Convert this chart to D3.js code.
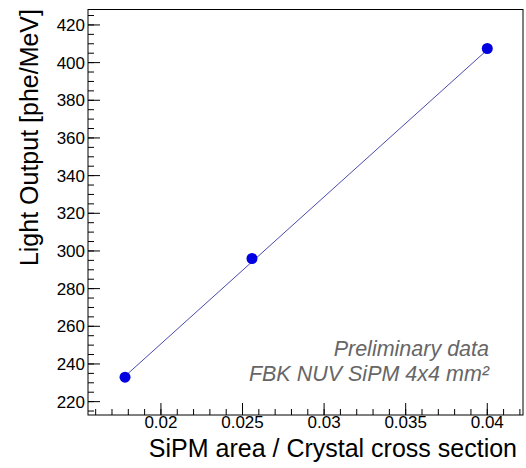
<!DOCTYPE html>
<html>
<head>
<meta charset="utf-8">
<script src="https://cdn.jsdelivr.net/npm/d3@7"></script>
<style>
  body { margin: 0; background: #fff; }
  svg { display: block; font-family: "Liberation Sans", Arial, sans-serif; }
</style>
</head>
<body>
<div id="chart"></div>
<script>
// measured points
const ratio = [0.0178, 0.02558, 0.0400];
const lightOutput = [233, 296, 407.5];
// linear fit drawn over the points
const fitX = [0.0178, 0.0400];
const fitY = [233.5, 406.8];
const xTicks = [0.02, 0.025, 0.03, 0.035, 0.04];
const yTicks = [220, 240, 260, 280, 300, 320, 340, 360, 380, 400, 420];
const notes = ["Preliminary data", "FBK NUV SiPM 4x4 mm²"];

let margin = {top: 9.5, right: 3, bottom: 53, left: 88},
    width = 526 - margin.left - margin.right,
    height = 468 - margin.top - margin.bottom;

let svg = d3.select("#chart")
    .append("svg")
        .attr("width", 526)
        .attr("height", 468)
    .append("g")
        .attr("transform", `translate(${margin.left},${margin.top})`);

let x = d3.scaleLinear()
    .domain([0.01553, 0.04219])
    .range([0, width]);

let y = d3.scaleLinear()
    .domain([212.9, 428.2])
    .range([height, 0]);

// minor ticks, ROOT style (inside the frame)
let xMinor = d3.range(0.015, 0.0425, 0.001).filter(v => x(v) > 0.5 && x(v) < width - 0.5);
let yMinor = d3.range(215, 430, 5).filter(v => y(v) > 0.5 && y(v) < height - 0.5);

let ticks = svg.append("g").attr("stroke", "#000").attr("stroke-width", 1);
ticks.selectAll(".xm").data(xMinor).enter().append("line")
    .attr("x1", d => x(d)).attr("x2", d => x(d))
    .attr("y1", height).attr("y2", height - 6);
ticks.selectAll(".xM").data(xTicks).enter().append("line")
    .attr("x1", d => x(d)).attr("x2", d => x(d))
    .attr("y1", height).attr("y2", height - 12);
ticks.selectAll(".ym").data(yMinor).enter().append("line")
    .attr("x1", 0).attr("x2", 6)
    .attr("y1", d => y(d)).attr("y2", d => y(d));
ticks.selectAll(".yM").data(yTicks).enter().append("line")
    .attr("x1", 0).attr("x2", 12)
    .attr("y1", d => y(d)).attr("y2", d => y(d));

// frame
svg.append("rect")
    .attr("width", width).attr("height", height)
    .attr("fill", "none").attr("stroke", "#000").attr("stroke-width", 1);

// tick labels
svg.append("g").selectAll("text").data(xTicks).enter().append("text")
    .attr("x", d => x(d)).attr("y", height + 13)
    .attr("text-anchor", "middle").attr("font-size", 17)
    .text(d => d3.format("")(d));
svg.append("g").selectAll("text").data(yTicks).enter().append("text")
    .attr("x", -3).attr("y", d => y(d)).attr("dy", "0.35em")
    .attr("text-anchor", "end").attr("font-size", 17)
    .text(d => d);

// axis titles
svg.append("text")
    .attr("x", 517 - margin.left).attr("y", 457 - margin.top)
    .attr("text-anchor", "end").attr("font-size", 25)
    .text("SiPM area / Crystal cross section");
svg.append("text")
    .attr("transform", `translate(${38 - margin.left},${9 - margin.top}) rotate(-90)`)
    .attr("text-anchor", "end").attr("font-size", 25)
    .text("Light Output [phe/MeV]");

// fit line
let line = d3.line().x(d => x(d[0])).y(d => y(d[1]));
svg.append("path")
    .datum(d3.zip(fitX, fitY))
    .attr("fill", "none").attr("stroke", "#4a4ab0").attr("stroke-width", 1)
    .attr("d", line);

// points
svg.append("g").selectAll("circle").data(d3.zip(ratio, lightOutput)).enter().append("circle")
    .attr("cx", d => x(d[0])).attr("cy", d => y(d[1]))
    .attr("r", 5.5).attr("fill", "#0000e0");

// annotation
svg.append("g").selectAll("text").data(notes).enter().append("text")
    .attr("x", 489 - margin.left).attr("y", (d, i) => 356 - margin.top + i * 25)
    .attr("text-anchor", "end").attr("font-size", 21.5)
    .attr("font-style", "italic").attr("fill", "#666")
    .text(d => d);
</script>
</body>
</html>
